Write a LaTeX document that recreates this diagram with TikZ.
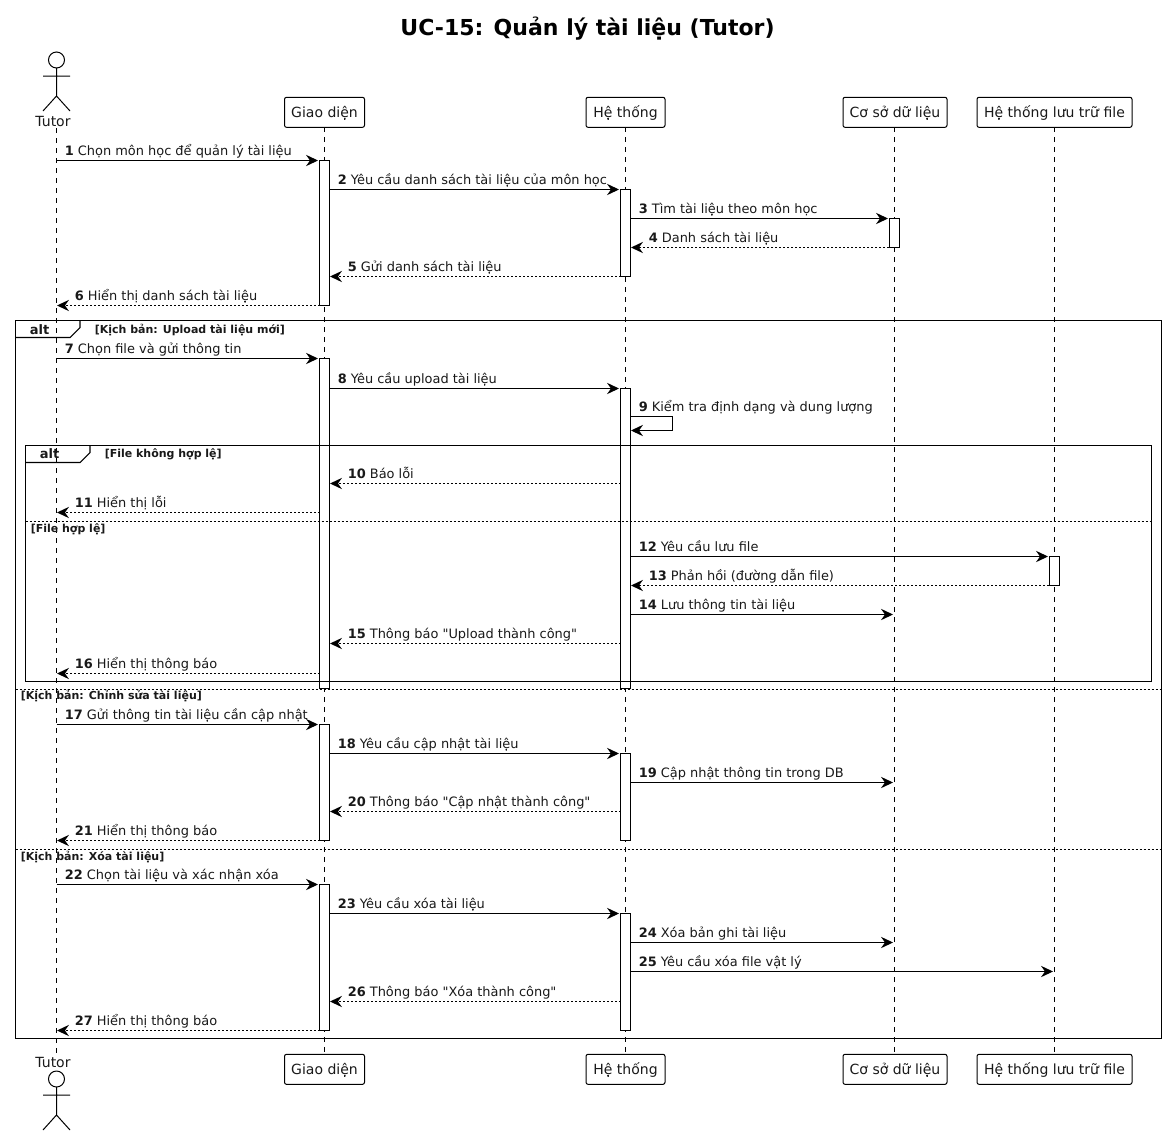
\documentclass[tikz,border=0pt]{standalone}
\usepackage{fontspec}
\setmainfont{DejaVu Sans}[Ligatures=TeXOff]
\usetikzlibrary{arrows.meta}
\newcommand{\fmsg}{\fontsize{9.7pt}{11pt}\selectfont}
\newcommand{\fgrd}{\fontsize{8.25pt}{10pt}\selectfont\bfseries}
\newcommand{\msgline}[7]{% n, style, x1, x2, y, labelx, text
  \coordinate (a#1) at (#3,#5);
  \coordinate (b#1) at (#4,#5);
  \draw[#2] (a#1) -- (b#1);
  \node[msglabel] (t#1) at (#6,#5-5) {\textbf{#1} #7};
}
\newcommand{\actorman}[4]{% name, x, y head centre, label centre y
  \node[actorhead] (#1) at (#2,#3) {};
  \coordinate (#1n) at (#2,#3+8);
  \coordinate (#1h) at (#2,#3+36);
  \coordinate (#1l) at (#2-13.5,#3+51);
  \coordinate (#1r) at (#2+13.5,#3+51);
  \coordinate (#1al) at (#2-13.5,#3+16);
  \coordinate (#1ar) at (#2+13.5,#3+16);
  \draw[actorline] (#1n) -- (#1h) (#1al) -- (#1ar) (#1l) -- (#1h) -- (#1r);
  \node[actorlabel] (#1t) at (#2-3.5,#4) {Tutor};
}
\tikzset{
  x=0.75pt,y=-0.75pt,
  head/.style={draw=black,line width=0.75pt,rounded corners=1.5pt,fill=white,minimum height=22.5pt,inner sep=0pt,text height=9.3pt,text depth=1.5pt,font=\fontsize{10.5pt}{12pt}\selectfont,text=black!90},
  actorhead/.style={draw=black,line width=0.75pt,circle,minimum size=12pt,inner sep=0pt},
  actorline/.style={draw=black,line width=0.75pt},
  actorlabel/.style={anchor=center,inner sep=0pt,font=\fontsize{10.5pt}{12pt}\selectfont,text=black!90},
  lifeline/.style={draw=black,line width=0.75pt,dash pattern=on 3.75pt off 3.75pt},
  activ/.style={draw=black,line width=0.75pt,fill=white},
  frameline/.style={draw=black,line width=0.8pt},
  elseline/.style={draw=black,line width=0.75pt,dash pattern=on 1.5pt off 1.5pt},
  call/.style={draw=black,line width=0.8pt,-{Stealth[length=9pt,width=8.5pt,inset=3pt]}},
  ret/.style={draw=black,line width=0.75pt,dash pattern=on 1.5pt off 1.5pt,-{Stealth[length=9pt,width=8.5pt,inset=3pt,line width=0pt]}},
  msglabel/.style={anchor=base west,inner sep=0pt,font=\fmsg,text=black!90},
  guard/.style={anchor=base west,inner sep=0pt,font=\fgrd,text=black!90},
  altlabel/.style={anchor=base,inner sep=0pt,font=\fontsize{9.75pt}{11pt}\selectfont\bfseries,text=black!90},
}
\begin{document}
\begin{tikzpicture}
\useasboundingbox (0,0) rectangle (1167,1135);
\fill[white] (0,0) rectangle (1167,1135);
\node[anchor=base,inner sep=0pt,font=\fontsize{16.5pt}{20pt}\selectfont\bfseries] (title) at (587.5,35) {UC-15: Quản lý tài liệu (Tutor)};
% lifelines
\coordinate (tu1) at (56.5,128);
\coordinate (tu2) at (56.5,1053);
\coordinate (g1) at (324.5,127);
\coordinate (g2) at (324.5,1054);
\coordinate (h1) at (625.5,127);
\coordinate (h2) at (625.5,1054);
\coordinate (d1) at (894.5,127);
\coordinate (d2) at (894.5,1054);
\coordinate (f1) at (1054.5,127);
\coordinate (f2) at (1054.5,1054);
\draw[lifeline] (tu1) -- (tu2);
\draw[lifeline] (g1) -- (g2);
\draw[lifeline] (h1) -- (h2);
\draw[lifeline] (d1) -- (d2);
\draw[lifeline] (f1) -- (f2);
% participants
\actorman{ua}{56.5}{60}{121}
\actorman{ub}{56.5}{1079}{1062}
\node[head,minimum width=60pt] (gd) at (324.5,112.3) {Giao diện};
\node[head,minimum width=59.25pt] (ht) at (625.5,112.3) {Hệ thống};
\node[head,minimum width=78pt] (db) at (895,112.3) {Cơ sở dữ liệu};
\node[head,minimum width=116.25pt] (fs) at (1054.5,112.3) {Hệ thống lưu trữ file};
\node[head,minimum width=60pt] (gd2) at (324.5,1069.3) {Giao diện};
\node[head,minimum width=59.25pt] (ht2) at (625.5,1069.3) {Hệ thống};
\node[head,minimum width=78pt] (db2) at (895,1069.3) {Cơ sở dữ liệu};
\node[head,minimum width=116.25pt] (fs2) at (1054.5,1069.3) {Hệ thống lưu trữ file};
% activations
\foreach \u/\v in {160.5/305.5,358.5/688.5,724.5/840.5,884.5/1030.5}
  \draw[activ] (319.5,\u) rectangle (329.5,\v);
\foreach \u/\v in {189.5/276.5,388.5/688.5,753.5/840.5,913.5/1030.5}
  \draw[activ] (620.5,\u) rectangle (630.5,\v);
\draw[activ] (889.5,218.5) rectangle (899.5,247.5);
\draw[activ] (1049.5,556.5) rectangle (1059.5,585.5);
% frames
\draw[frameline] (15.5,320.5) rectangle (1161.5,1038.5);
\draw[frameline] (15.5,337.5) -- (70,337.5) -- (80,327.5) -- (80,320.5);
\node[altlabel] (alt1) at (39.5,334) {alt};
\node[guard] (g1t) at (94.5,333) {[Kịch bản: Upload tài liệu mới]};
\draw[frameline] (25.5,445.5) rectangle (1151.5,681.5);
\draw[frameline] (25.5,462.5) -- (80,462.5) -- (90,452.5) -- (90,445.5);
\node[altlabel] (alt2) at (49.5,458) {alt};
\node[guard] (g2t) at (104.5,457) {[File không hợp lệ]};
\draw[elseline] (25.5,521.5) -- (1151.5,521.5);
\node[guard] (g3t) at (30.5,532) {[File hợp lệ]};
\draw[elseline] (15.5,689.5) -- (1161.5,689.5);
\node[guard] (g4t) at (20.5,699.5) {[Kịch bản: Chỉnh sửa tài liệu]};
\draw[elseline] (15.5,849.5) -- (1161.5,849.5);
\node[guard] (g5t) at (20.5,860) {[Kịch bản: Xóa tài liệu]};
% messages
\msgline{1}{call}{56.5}{318}{160.5}{64.5}{Chọn môn học để quản lý tài liệu}
\msgline{2}{call}{329.5}{619}{189.5}{337.5}{Yêu cầu danh sách tài liệu của môn học}
\msgline{3}{call}{630.5}{888}{218.5}{638.5}{Tìm tài liệu theo môn học}
\msgline{4}{ret}{889}{631}{247.5}{648.5}{Danh sách tài liệu}
\msgline{5}{ret}{620.5}{330}{276.5}{347.5}{Gửi danh sách tài liệu}
\msgline{6}{ret}{319.5}{57}{305.5}{74.5}{Hiển thị danh sách tài liệu}
\msgline{7}{call}{56.5}{318}{358.5}{64.5}{Chọn file và gửi thông tin}
\msgline{8}{call}{329.5}{619}{388.5}{337.5}{Yêu cầu upload tài liệu}
\coordinate (a9) at (630.5,416.5);
\coordinate (c9) at (672.5,416.5);
\coordinate (d9) at (672.5,430.5);
\coordinate (b9) at (631,430.5);
\draw[call] (a9) -- (c9) -- (d9) -- (b9);
\node[msglabel] (t9) at (638.5,411.5) {\textbf{9} Kiểm tra định dạng và dung lượng};
\msgline{10}{ret}{620.5}{330}{483.5}{347.5}{Báo lỗi}
\msgline{11}{ret}{319.5}{57}{512.5}{74.5}{Hiển thị lỗi}
\msgline{12}{call}{630.5}{1048}{556.5}{638.5}{Yêu cầu lưu file}
\msgline{13}{ret}{1049}{631}{585.5}{648.5}{Phản hồi (đường dẫn file)}
\msgline{14}{call}{630.5}{893}{614.5}{638.5}{Lưu thông tin tài liệu}
\msgline{15}{ret}{620.5}{330}{643.5}{347.5}{Thông báo "Upload thành công"}
\msgline{16}{ret}{319.5}{57}{673.5}{74.5}{Hiển thị thông báo}
\msgline{17}{call}{56.5}{318}{724.5}{64.5}{Gửi thông tin tài liệu cần cập nhật}
\msgline{18}{call}{329.5}{619}{753.5}{337.5}{Yêu cầu cập nhật tài liệu}
\msgline{19}{call}{630.5}{893}{782.5}{638.5}{Cập nhật thông tin trong DB}
\msgline{20}{ret}{620.5}{330}{811.5}{347.5}{Thông báo "Cập nhật thành công"}
\msgline{21}{ret}{319.5}{57}{840.5}{74.5}{Hiển thị thông báo}
\msgline{22}{call}{56.5}{318}{884.5}{64.5}{Chọn tài liệu và xác nhận xóa}
\msgline{23}{call}{329.5}{619}{913.5}{337.5}{Yêu cầu xóa tài liệu}
\msgline{24}{call}{630.5}{893}{942.5}{638.5}{Xóa bản ghi tài liệu}
\msgline{25}{call}{630.5}{1053}{971.5}{638.5}{Yêu cầu xóa file vật lý}
\msgline{26}{ret}{620.5}{330}{1001.5}{347.5}{Thông báo "Xóa thành công"}
\msgline{27}{ret}{319.5}{57}{1030.5}{74.5}{Hiển thị thông báo}
\end{tikzpicture}
\end{document}
